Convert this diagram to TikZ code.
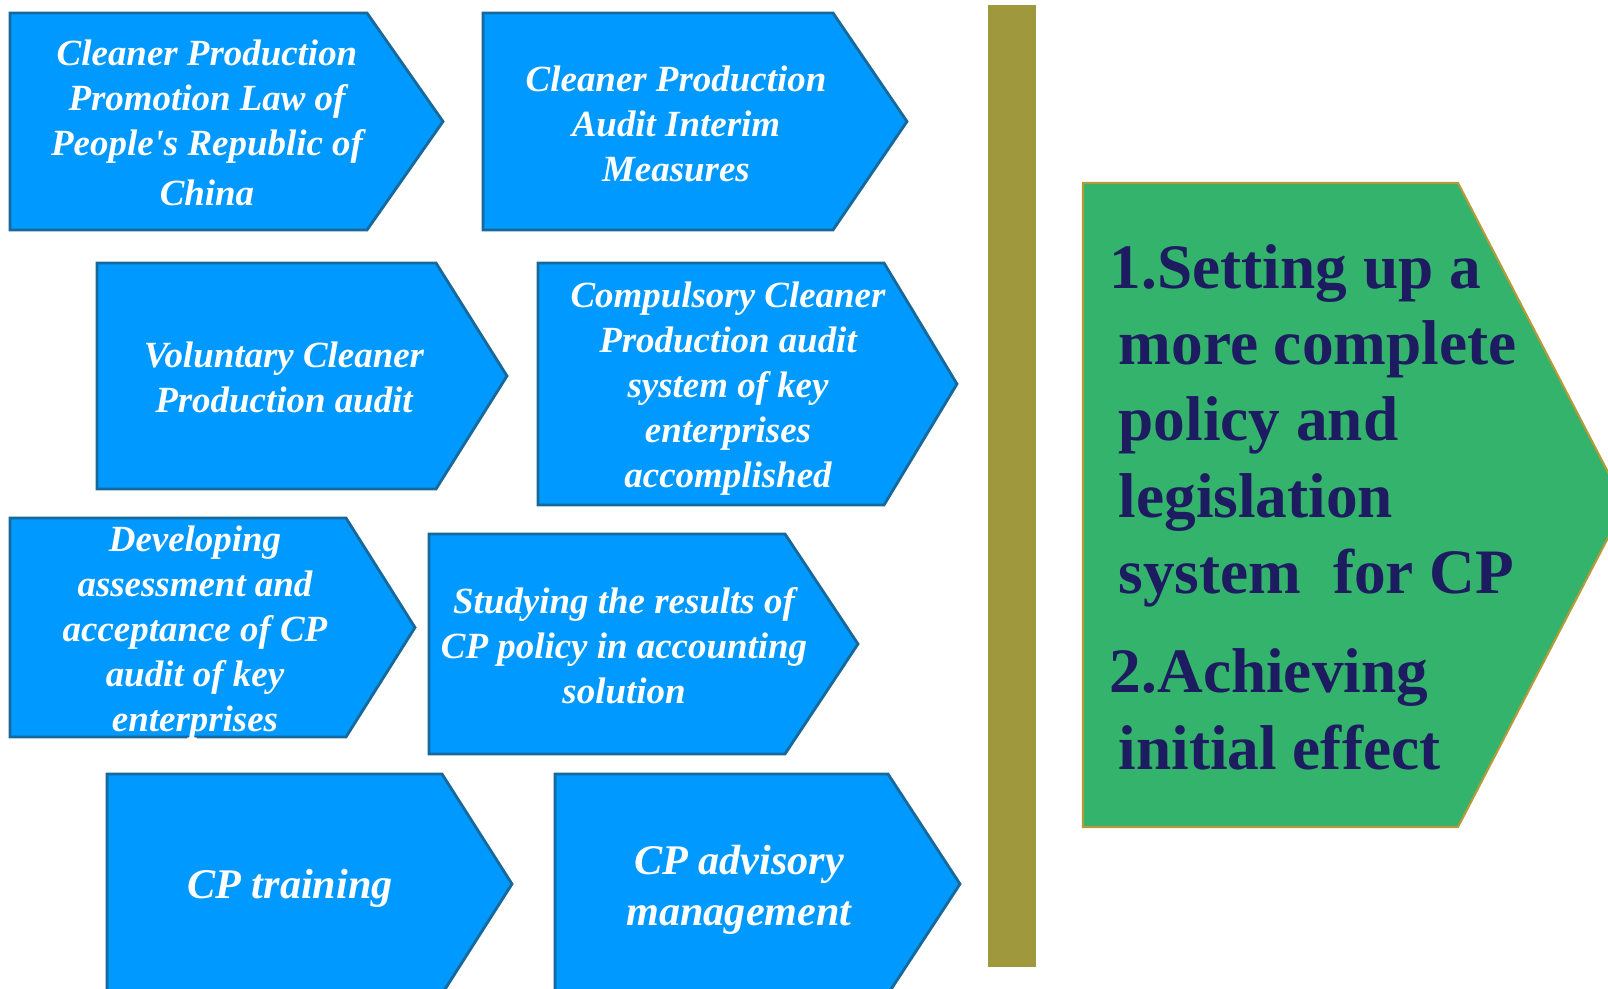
\documentclass[tikz,border=0pt]{standalone}
\usepackage{fontspec}
\setmainfont{Liberation Serif}
\usepackage{tikz}
\usetikzlibrary{positioning}
\definecolor{cpblue}{RGB}{0,153,255}
\definecolor{cpedge}{RGB}{23,105,155}
\definecolor{cpgreen}{RGB}{51,179,107}
\definecolor{cpgold}{RGB}{181,154,58}
\definecolor{cpolive}{RGB}{160,152,60}
\definecolor{cpnavy}{RGB}{30,28,96}
\tikzstyle{bbox} = [fill=cpblue, draw=cpedge, line width=0.8pt, line join=miter]
\tikzstyle{gbox} = [fill=cpgreen, draw=cpgold, line width=0.6pt]
\tikzstyle{btext} = [text=white, align=center, inner sep=0pt, font=\fontsize{10.5}{12.8}\selectfont\bfseries\itshape]
\tikzstyle{bigtext} = [btext, font=\fontsize{12}{14.3}\selectfont\bfseries\itshape]
\tikzstyle{gtext} = [text=cpnavy, align=left, inner sep=0pt, anchor=west, font=\fontsize{18}{21.7}\selectfont\bfseries]

\begin{document}
\begin{tikzpicture}[x=0.01cm, y=-0.01cm]
			\useasboundingbox (0, 0) rectangle (1608, 989);
			\clip (0, 0) rectangle (1608, 989);
			
			% blue arrows, left to right, top to bottom
			\path [bbox] (10, 13) -- (367, 13) -- (443, 121.5) -- (367, 230) -- (10, 230) -- cycle;
			\path [bbox] (483, 13) -- (833, 13) -- (907, 121.5) -- (833, 230) -- (483, 230) -- cycle;
			\path [bbox] (97, 263) -- (436, 263) -- (507, 376) -- (436, 489) -- (97, 489) -- cycle;
			\path [bbox] (538, 263) -- (884, 263) -- (957, 384) -- (884, 505) -- (538, 505) -- cycle;
			\path [bbox] (10, 518) -- (346, 518) -- (415, 627.5) -- (346, 737) -- (10, 737) -- cycle;
			\path [bbox] (429, 534) -- (785, 534) -- (858, 644) -- (785, 754) -- (429, 754) -- cycle;
			\path [bbox] (107, 774) -- (442, 774) -- (512, 884) -- (442, 994) -- (107, 994) -- cycle;
			\path [bbox] (555, 774) -- (888, 774) -- (960, 884) -- (888, 994) -- (555, 994) -- cycle;
			
			\node [btext] (law) at (207, 123) {Cleaner Production\\ Promotion Law of\\ People\textquotesingle s Republic of\\[1.5pt] China};
			\node [btext] (interim) at (676, 124) {Cleaner Production\\ Audit Interim\\ Measures};
			\node [btext] (voluntary) at (284, 377) {Voluntary Cleaner\\ Production audit};
			\node [btext] (compulsory) at (728, 389) {Compulsory Cleaner\\ Production audit\\ system of key\\ enterprises\\ accomplished};
			\node [btext] (develop) at (195, 633) {Developing\\ assessment and\\ acceptance of CP\\ audit of key\\ enterprises};
			\node [btext] (study) at (624, 646) {Studying the results of\\ CP policy in accounting\\ solution};
			\node [bigtext] (training) at (290, 888) {CP training};
			\node [bigtext] (advisory) at (739, 890) {CP advisory\\ management};
			
			% divider
			\fill [cpolive] (988, 5) rectangle (1036, 967);
			
			% result
			\path [gbox] (1083, 183) -- (1458, 183) -- (1625, 505) -- (1458, 827) -- (1083, 827) -- cycle;
			\node [gtext] (result) at (1118, 507) {\hspace*{-2.5pt}1.Setting up a\\ more complete\\ policy and\\ legislation\\ system~~for CP\\[6.6pt] \hspace*{-2.5pt}2.Achieving\\ initial effect};
		\end{tikzpicture}
\end{document}
